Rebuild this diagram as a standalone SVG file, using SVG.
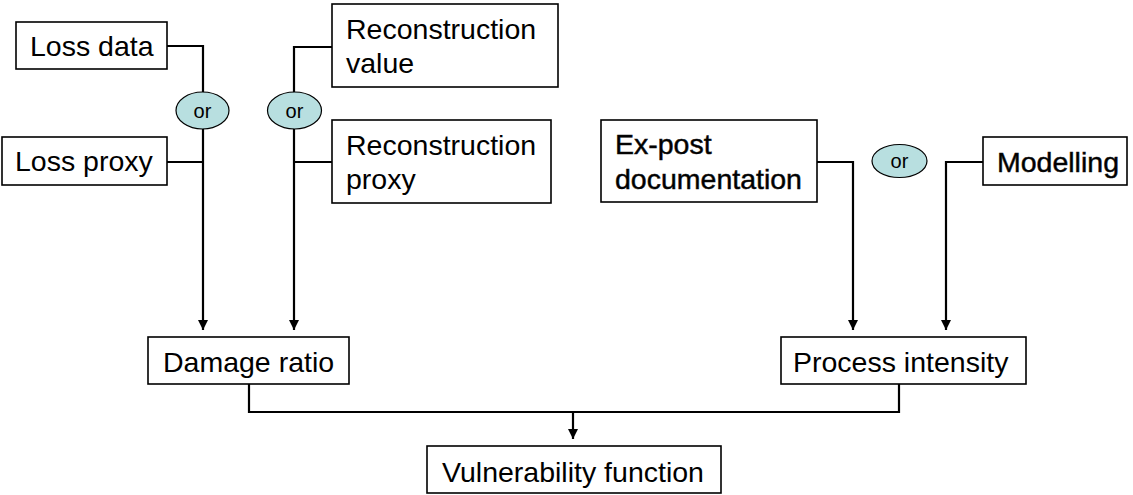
<svg xmlns="http://www.w3.org/2000/svg" width="1133" height="495" viewBox="0 0 1133 495">
<style>
.box{fill:#fff;stroke:#000;stroke-width:1.6}
.t{font-family:"Liberation Sans",Arial,sans-serif;font-size:28.5px;fill:#000}
.b{stroke:#111;stroke-width:0.5}
.or{fill:#b8dfe0;stroke:#000;stroke-width:1.2}
.ot{font-family:"Liberation Sans",Arial,sans-serif;font-size:20px;fill:#000;text-anchor:middle}
.c{fill:none;stroke:#000;stroke-width:2.2}
</style>
<defs>
<marker id="ah" markerWidth="10" markerHeight="10" refX="10" refY="5" orient="auto" markerUnits="userSpaceOnUse">
<path d="M0,0 L10,5 L0,10 Z" fill="#000"/>
</marker>
</defs>
<rect width="1133" height="495" fill="#fff"/>
<g id="connectors">
<path class="c" d="M167 46 H203 V330" marker-end="url(#ah)"/>
<path class="c" d="M167 162 H203"/>
<path class="c" d="M332 47 H294 V330" marker-end="url(#ah)"/>
<path class="c" d="M332 162 H294"/>
<path class="c" d="M817 162 H853 V330" marker-end="url(#ah)"/>
<path class="c" d="M983 162 H946 V330" marker-end="url(#ah)"/>
<path class="c" d="M249 384 V412 H899 V384"/>
<path class="c" d="M573 412 V439" marker-end="url(#ah)"/>
</g>
<g id="or1"><ellipse class="or" cx="202.5" cy="110.5" rx="26.5" ry="18.5"/><text class="ot" x="202.5" y="117.5">or</text></g>
<g id="or2"><ellipse class="or" cx="294.5" cy="110.5" rx="27" ry="18.5"/><text class="ot" x="294.5" y="117.5">or</text></g>
<g id="or3"><ellipse class="or" cx="899.5" cy="161" rx="27.5" ry="16.5"/><text class="ot" x="899.5" y="168">or</text></g>
<g id="loss-data"><rect class="box" x="16" y="22" width="151" height="47"/><text class="t" x="30" y="56">Loss data</text></g>
<g id="loss-proxy"><rect class="box" x="2" y="137" width="165" height="48"/><text class="t" x="15" y="171">Loss proxy</text></g>
<g id="recon-value"><rect class="box" x="332" y="4" width="226" height="83"/><text class="t" x="346" y="39">Reconstruction</text><text class="t" x="346" y="73">value</text></g>
<g id="recon-proxy"><rect class="box" x="332" y="120" width="219" height="83"/><text class="t" x="346" y="155">Reconstruction</text><text class="t" x="346" y="189">proxy</text></g>
<g id="ex-post"><rect class="box" x="601" y="120" width="216" height="82"/><text class="t b" x="615" y="154">Ex-post</text><text class="t b" x="615" y="189">documentation</text></g>
<g id="modelling"><rect class="box" x="983" y="137" width="144" height="48"/><text class="t b" x="997" y="172">Modelling</text></g>
<g id="damage-ratio"><rect class="box" x="148" y="337" width="201" height="47"/><text class="t" x="163" y="372">Damage ratio</text></g>
<g id="process-intensity"><rect class="box" x="781" y="337" width="245" height="47"/><text class="t" x="793" y="372">Process intensity</text></g>
<g id="vulnerability-function"><rect class="box" x="427" y="446" width="294" height="47"/><text class="t" x="442" y="482">Vulnerability function</text></g>
</svg>
